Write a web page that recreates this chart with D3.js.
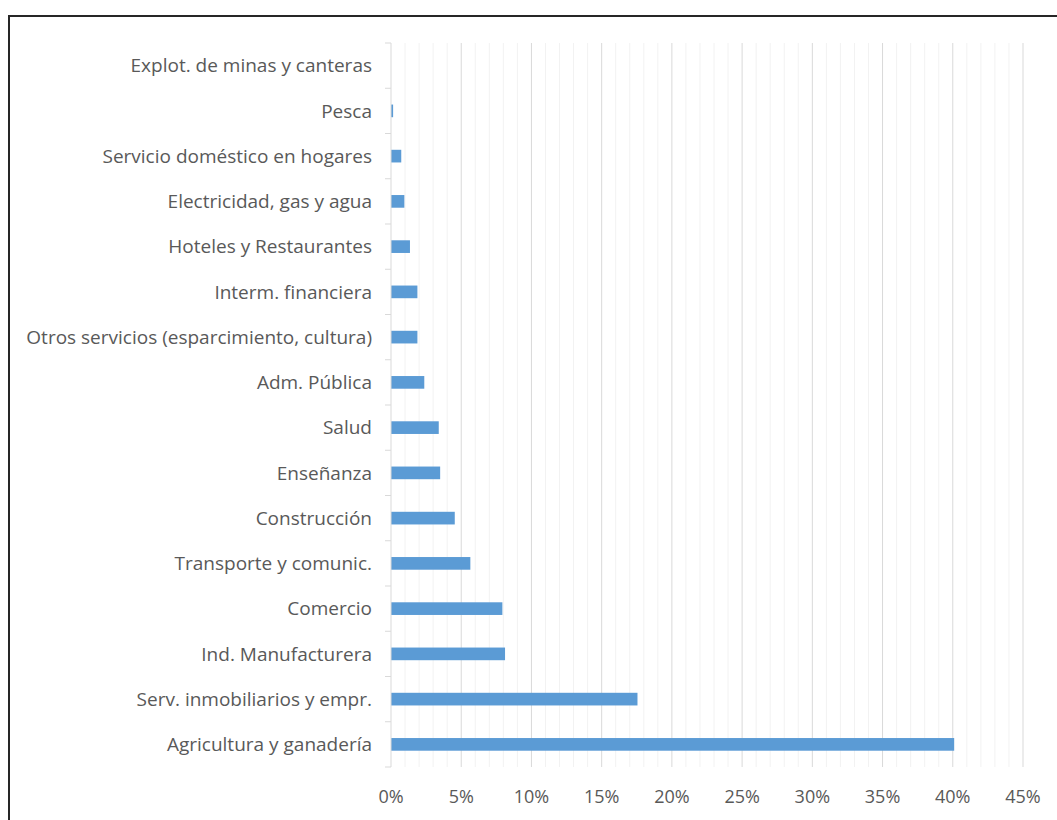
<!DOCTYPE html>
<html>
<head>
<meta charset="utf-8">
<script src="https://cdn.jsdelivr.net/npm/d3@7"></script>
<style>
  body { margin: 0; background: #fff; }
</style>
</head>
<body>
<script>
// sectors, top to bottom as shown
let categories = [
    "Explot. de minas y canteras",
    "Pesca",
    "Servicio doméstico en hogares",
    "Electricidad, gas y agua",
    "Hoteles y Restaurantes",
    "Interm. financiera",
    "Otros servicios (esparcimiento, cultura)",
    "Adm. Pública",
    "Salud",
    "Enseñanza",
    "Construcción",
    "Transporte y comunic.",
    "Comercio",
    "Ind. Manufacturera",
    "Serv. inmobiliarios y empr.",
    "Agricultura y ganadería"
];
let shares = [0.0, 0.15, 0.73, 0.95, 1.35, 1.88, 1.88, 2.37, 3.4, 3.5, 4.54, 5.65, 7.93, 8.12, 17.55, 40.1];
let tickValues = [0, 5, 10, 15, 20, 25, 30, 35, 40, 45];
let minorTicks = d3.range(0, 46, 1);

function main() {
    let W = 1057, H = 820;
    let left = 391, right = 1023, top = 43, bottom = 767;

    let svg = d3.select("body").append("svg")
        .attr("width", W)
        .attr("height", H);

    // frame
    svg.append("rect")
        .attr("x", 9).attr("y", 16)
        .attr("width", 1200).attr("height", 1000)
        .attr("fill", "none")
        .attr("stroke", "#262626")
        .attr("stroke-width", 2);

    let x = d3.scaleLinear().domain([0, 45]).range([left, right]);
    let y = d3.scaleBand().domain(categories).range([top, bottom]).paddingInner(0.72).paddingOuter(0.36);
    let yb = d3.scaleBand().domain(categories).range([top, bottom]);

    // minor gridlines
    svg.append("g").selectAll("line")
        .data(minorTicks.filter(d => d % 5 !== 0))
        .enter().append("line")
        .attr("x1", d => x(d)).attr("x2", d => x(d))
        .attr("y1", top).attr("y2", bottom)
        .attr("stroke", "#f2f2f2")
        .attr("stroke-width", 1);

    // major gridlines
    svg.append("g").selectAll("line")
        .data(tickValues.slice(1))
        .enter().append("line")
        .attr("x1", d => x(d)).attr("x2", d => x(d))
        .attr("y1", top).attr("y2", bottom)
        .attr("stroke", "#d9d9d9")
        .attr("stroke-width", 1);

    // bars
    svg.append("g").selectAll("rect")
        .data(shares)
        .enter().append("rect")
        .attr("x", x(0))
        .attr("y", (d, i) => y(categories[i]))
        .attr("width", d => x(d) - x(0))
        .attr("height", y.bandwidth())
        .attr("fill", "#5b9bd5");

    // category axis line + ticks
    svg.append("line")
        .attr("x1", left).attr("x2", left)
        .attr("y1", top).attr("y2", bottom)
        .attr("stroke", "#d9d9d9");
    svg.append("g").selectAll("line")
        .data(categories.concat(["end"]))
        .enter().append("line")
        .attr("x1", left - 6).attr("x2", left)
        .attr("y1", (d, i) => top + i * yb.step())
        .attr("y2", (d, i) => top + i * yb.step())
        .attr("stroke", "#d9d9d9");

    // category labels
    svg.append("g").selectAll("text")
        .data(categories)
        .enter().append("text")
        .attr("x", left - 19)
        .attr("y", d => yb(d) + yb.bandwidth() / 2)
        .attr("dy", "0.35em")
        .attr("text-anchor", "end")
        .attr("font-family", "'Open Sans', sans-serif")
        .attr("font-size", "19px")
        .attr("fill", "#595959")
        .text(d => d);

    // value axis labels
    svg.append("g").selectAll("text")
        .data(tickValues)
        .enter().append("text")
        .attr("x", d => x(d))
        .attr("y", 797)
        .attr("dy", "0.35em")
        .attr("text-anchor", "middle")
        .attr("font-family", "'Open Sans', sans-serif")
        .attr("font-size", "18px")
        .attr("fill", "#595959")
        .text(d => d + "%");
}

main();
</script>
</body>
</html>
